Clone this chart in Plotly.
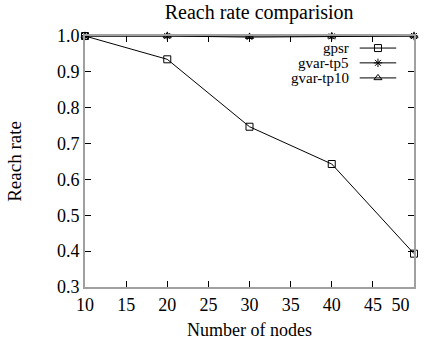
import plotly.graph_objects as go

# Reach rate vs. number of nodes for three routing schemes
nodes = [10, 20, 30, 40, 50]
gpsr = [1.0, 0.935, 0.747, 0.643, 0.393]
gvar_tp5 = [1.0, 1.0, 0.997, 0.999, 1.0]
gvar_tp10 = [1.0, 1.0, 0.998, 0.999, 1.0]

series_names = ["gpsr", "gvar-tp5", "gvar-tp10"]
series_values = [gpsr, gvar_tp5, gvar_tp10]
series_symbols = ["square-open", "asterisk-open", "triangle-up-open"]

x_ticks = [10, 15, 20, 25, 30, 35, 40, 45, 50]
x_tick_text = ["10", "15", "20", "25", "30", "35", "40", "45", "50"]
y_ticks = [0.3, 0.4, 0.5, 0.6, 0.7, 0.8, 0.9, 1.0]

FONT = "Liberation Serif, Times New Roman, serif"
FRAME = "#a0a0a0"

fig = go.Figure()

# Plot the series (drawn in reverse so gpsr ends up on top at x=10)
for name, vals, sym in reversed(list(zip(series_names, series_values, series_symbols))):
    fig.add_trace(go.Scatter(
        x=nodes, y=vals, mode="lines+markers", name=name,
        line=dict(color="black", width=1),
        marker=dict(symbol=sym, size=7, color="black", line=dict(color="black", width=1)),
        cliponaxis=False, showlegend=False,
    ))

# Key in gnuplot style: right-aligned label followed by a line sample with marker
key_text_x = 0.804
key_line = (0.835, 0.946)
key_rows = [0.952, 0.893, 0.833]
for name, sym, ky in zip(series_names, series_symbols, key_rows):
    fig.add_annotation(
        x=key_text_x, y=ky, xref="paper", yref="paper", text=name,
        showarrow=False, xanchor="right", yanchor="middle", borderpad=0,
        font=dict(family=FONT, size=15, color="black"),
    )
    fig.add_trace(go.Scatter(
        x=list(key_line), y=[ky, ky], xaxis="x2", yaxis="y2",
        mode="lines", line=dict(color="black", width=1),
        showlegend=False, hoverinfo="skip", cliponaxis=False,
    ))
    fig.add_trace(go.Scatter(
        x=[sum(key_line) / 2], y=[ky], xaxis="x2", yaxis="y2",
        mode="markers",
        marker=dict(symbol=sym, size=7, color="black", line=dict(color="black", width=1)),
        showlegend=False, hoverinfo="skip", cliponaxis=False,
    ))

axis_common = dict(
    showgrid=False, zeroline=False,
    showline=True, linecolor=FRAME, linewidth=2,
    mirror="ticks", ticks="inside", ticklen=6, tickcolor="black", tickwidth=1,
    tickfont=dict(family=FONT, size=18, color="black"),
)

# The last x label sits pulled in from the right edge of the frame
x_tick_text[-1] = x_tick_text[-1] + "\u00a0" * 6

fig.update_layout(
    width=443, height=343,
    margin=dict(l=85, r=6, t=36, b=56),
    paper_bgcolor="white", plot_bgcolor="white",
    title=dict(text="Reach rate comparision", x=0.585, xanchor="center", y=0.965, yanchor="middle",
               font=dict(family=FONT, size=20, color="black")),
    xaxis=dict(
        range=[10, 50], tickvals=x_ticks, ticktext=x_tick_text, ticklabeloverflow="allow",
        title=dict(text="Number of nodes", font=dict(family=FONT, size=18, color="black"), standoff=10),
        **axis_common,
    ),
    yaxis=dict(
        range=[0.3, 1.0], tickvals=y_ticks, ticktext=[f"{v:.1f}" for v in y_ticks],
        title=dict(text="Reach rate", font=dict(family=FONT, size=19, color="black"), standoff=30),
        **axis_common,
    ),
    xaxis2=dict(range=[0, 1], domain=[0, 1], overlaying="x", visible=False, fixedrange=True),
    yaxis2=dict(range=[0, 1], domain=[0, 1], overlaying="y", visible=False, fixedrange=True),
)

fig.write_html("out.html")
